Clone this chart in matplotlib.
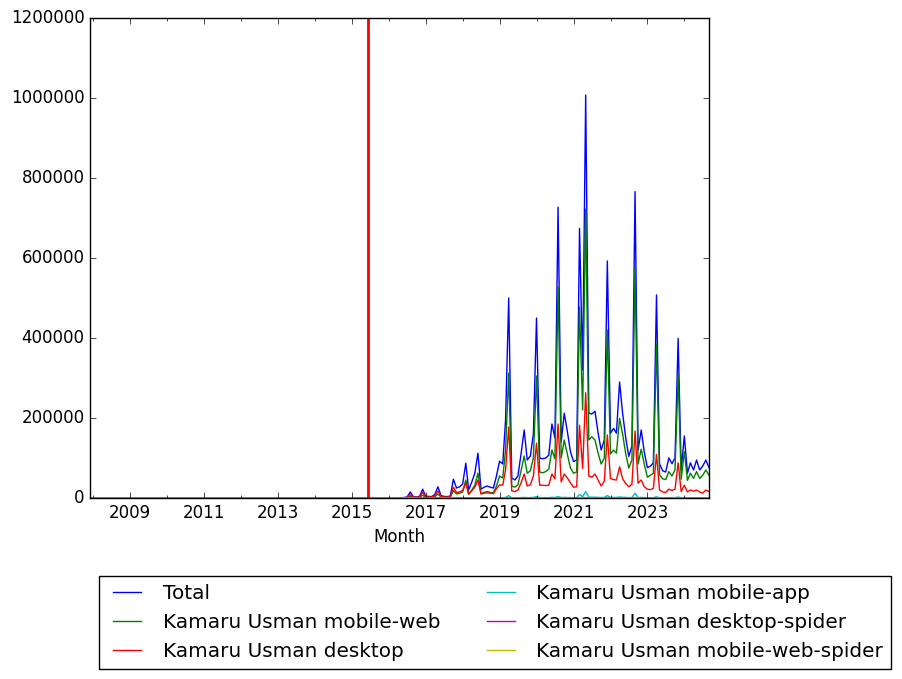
import matplotlib
matplotlib.use("Agg")
import matplotlib.pyplot as plt
import matplotlib.dates as mdates
import matplotlib.ticker as mticker
import numpy as np
import pandas as pd
from datetime import datetime

plt.style.use("classic")

# monthly pageviews at month end, 2007-11 .. 2024-08 (all zero before 2016)
months = pd.date_range("2007-11-30", "2024-08-31", freq="ME").to_pydatetime()
lead_zeros = [0] * 98  # 2007-11 .. 2015-12

total = lead_zeros + [
    0, 300, 600, 900, 1200, 2500, 15000, 3000, 2500, 4000, 22000, 4500,
    4000, 3500, 9000, 28000, 6000, 4000, 3500, 5000, 47000, 25000, 28000, 35000,
    87000, 20000, 40000, 62000, 112000, 22000, 27000, 30000, 27000, 25000, 55000, 92000,
    85000, 195000, 500000, 50000, 45000, 55000, 110000, 170000, 95000, 105000, 160000, 450000,
    100000, 98000, 100000, 107000, 185000, 150000, 727000, 140000, 212000, 166000, 116000, 91000,
    95000, 674000, 320000, 1007500, 212000, 210000, 217000, 162000, 120000, 145000, 592500, 162000,
    174000, 162000, 290000, 212000, 150000, 104000, 130000, 766000, 120000, 170000, 115000, 76000,
    80000, 88000, 507500, 85000, 68000, 65000, 100000, 86000, 100000, 399000, 70000, 155000,
    62000, 88000, 70000, 95000, 70000, 80000, 95000, 76000,
]

mobile_web = lead_zeros + [
    0, 100, 200, 300, 400, 800, 5000, 1000, 800, 1300, 7000, 1500,
    1500, 1200, 3000, 10000, 2200, 1500, 1300, 2000, 18000, 10000, 12000, 15000,
    45000, 9000, 20000, 32000, 62000, 11000, 14000, 16000, 14000, 13000, 30000, 55000,
    50000, 120000, 312500, 30000, 27000, 33000, 68000, 105000, 62000, 68000, 100000, 305000,
    65000, 63000, 66000, 72000, 120000, 98000, 528000, 100000, 145000, 110000, 75000, 62000,
    65000, 478000, 220000, 722500, 145000, 153000, 145000, 112000, 85000, 100000, 420000, 110000,
    120000, 112000, 199000, 160000, 110000, 75000, 95000, 576000, 85000, 122000, 85000, 52000,
    57000, 62000, 385000, 58000, 48000, 46000, 66000, 55000, 70000, 307500, 47000, 116000,
    44000, 62000, 49000, 66000, 49000, 57000, 70000, 57000,
]

desktop = lead_zeros + [
    0, 200, 400, 600, 800, 1600, 9500, 1900, 1600, 2600, 14000, 2900,
    2400, 2200, 5800, 17500, 3700, 2400, 2100, 2900, 27000, 14000, 15000, 19000,
    37000, 10000, 18000, 27000, 45000, 10000, 12000, 13000, 12000, 11000, 23000, 33000,
    32000, 70000, 177500, 18000, 16000, 20000, 38000, 60000, 30000, 33000, 55000, 137000,
    32000, 32000, 31000, 32000, 60000, 48000, 185000, 40000, 60000, 50000, 38000, 27000,
    28000, 182000, 74000, 263000, 55000, 52000, 60000, 45000, 30000, 42000, 157500, 49000,
    46000, 45000, 78000, 48000, 36000, 28000, 34000, 167500, 37000, 45000, 28000, 22000,
    21000, 24000, 109000, 20000, 15000, 14000, 22000, 19000, 22000, 88000, 16000, 32000,
    15000, 20000, 17000, 20000, 15000, 12000, 20000, 16000,
]

mobile_app = lead_zeros + [
    0, 0, 0, 0, 0, 0, 100, 0, 0, 0, 100, 0,
    0, 0, 0, 200, 0, 0, 0, 0, 300, 200, 200, 200,
    500, 200, 300, 400, 800, 200, 300, 300, 300, 300, 500, 700,
    700, 1500, 6000, 600, 500, 600, 1000, 1500, 900, 1000, 1500, 3500,
    1000, 900, 1000, 1000, 1600, 1300, 3500, 1300, 1500, 1300, 1000, 900,
    1000, 9000, 3000, 16000, 2000, 2000, 2000, 1600, 1200, 1400, 6000, 1500,
    1600, 1500, 2500, 1800, 1400, 1000, 1200, 12000, 1200, 1500, 1100, 800,
    800, 900, 3000, 800, 700, 700, 900, 800, 900, 2500, 700, 1200,
    600, 800, 700, 800, 700, 700, 800, 700,
]

desktop_spider = lead_zeros + [
    0, 0, 0, 0, 0, 0, 10, 0, 0, 0, 10, 0,
    0, 0, 0, 10, 0, 0, 0, 0, 20, 10, 10, 10,
    30, 10, 20, 20, 40, 10, 10, 10, 10, 10, 20, 30,
    30, 60, 150, 20, 20, 20, 40, 60, 30, 30, 50, 120,
    30, 30, 30, 30, 50, 40, 200, 40, 50, 40, 30, 30,
    30, 180, 80, 300, 60, 50, 60, 40, 30, 40, 150, 40,
    40, 40, 70, 50, 40, 30, 30, 180, 30, 40, 30, 20,
    20, 20, 100, 20, 20, 20, 20, 20, 20, 80, 20, 30,
    20, 20, 20, 20, 20, 20, 20, 20,
]

mobile_web_spider = lead_zeros + [
    0, 0, 0, 0, 0, 0, 0, 0, 0, 0, 0, 0,
    0, 0, 0, 0, 0, 0, 0, 0, 10, 0, 0, 0,
    10, 0, 0, 10, 10, 0, 0, 0, 0, 0, 10, 10,
    10, 20, 50, 10, 10, 10, 10, 20, 10, 10, 20, 40,
    10, 10, 10, 10, 20, 10, 60, 10, 20, 10, 10, 10,
    10, 50, 20, 90, 20, 20, 20, 10, 10, 10, 40, 10,
    10, 10, 20, 10, 10, 10, 10, 60, 10, 10, 10, 10,
    10, 10, 30, 10, 10, 10, 10, 10, 10, 20, 10, 10,
    10, 10, 10, 10, 10, 10, 10, 10,
]

series = [
    ("Total", total),
    ("Kamaru Usman mobile-web", mobile_web),
    ("Kamaru Usman desktop", desktop),
    ("Kamaru Usman mobile-app", mobile_app),
    ("Kamaru Usman desktop-spider", desktop_spider),
    ("Kamaru Usman mobile-web-spider", mobile_web_spider),
]
colors = ["b", "g", "r", "c", "m", "y"]
marker_date = datetime(2015, 6, 5)

fig = plt.figure(figsize=(9.02, 6.79), dpi=100, facecolor="white")
ax = fig.add_axes([90 / 902, 1 - 498 / 679, 619 / 902, 480 / 679])

for (name, vals), c in zip(series, colors):
    ax.plot(months, vals, color=c, label=name)

ax.axvline(marker_date, color="r", linewidth=2)

ax.set_xlim(months[0], months[-1])
ax.set_ylim(0, 1200000)
ax.set_yticks(np.arange(0, 1200001, 200000))
ax.ticklabel_format(axis="y", style="plain", useOffset=False)

odd_years = [datetime(y, 1, 1) for y in range(2009, 2025, 2)]
ax.xaxis.set_major_locator(mticker.FixedLocator(mdates.date2num(odd_years)))
ax.xaxis.set_major_formatter(mdates.DateFormatter("%Y"))
ax.xaxis.set_minor_locator(mdates.YearLocator(1))
ax.set_xlabel("Month")

ax.legend(loc="upper left", bbox_to_anchor=(99 / 902, 1 - 576 / 679),
          bbox_transform=fig.transFigure, ncol=2, borderaxespad=0)

fig.savefig("out.png", dpi=100, facecolor="white")
